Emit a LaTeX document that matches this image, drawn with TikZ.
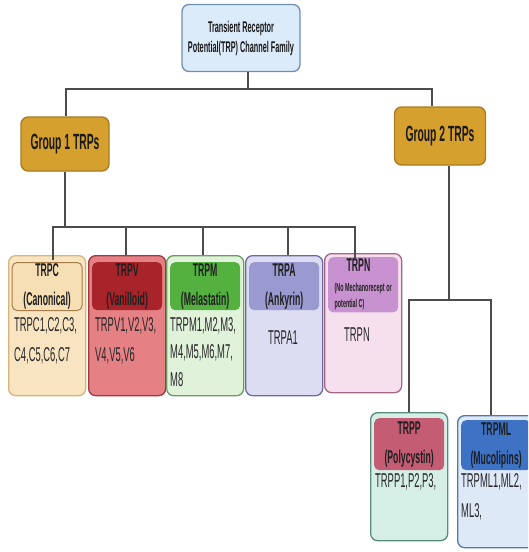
\documentclass[tikz,border=0pt]{standalone}
\usepackage{fontspec}
\setmainfont{Liberation Sans}[FakeStretch=0.47]
\usetikzlibrary{positioning}

\definecolor{topfill}{HTML}{DCEBFA}
\definecolor{topdraw}{HTML}{6F8FB0}
\definecolor{grpfill}{HTML}{D6A02E}
\definecolor{grpdraw}{HTML}{A87A22}
\definecolor{cfill}{HTML}{F8E4C0}
\definecolor{cdraw}{HTML}{D8B47A}
\definecolor{chead}{HTML}{F6DFB5}
\definecolor{cheaddraw}{HTML}{A67C4A}
\definecolor{vfill}{HTML}{E58084}
\definecolor{vdraw}{HTML}{9E3A3E}
\definecolor{vhead}{HTML}{A8232A}
\definecolor{mfill}{HTML}{E0F3DA}
\definecolor{mdraw}{HTML}{6C9A60}
\definecolor{mhead}{HTML}{54B140}
\definecolor{afill}{HTML}{DCDCF2}
\definecolor{adraw}{HTML}{6B6B9E}
\definecolor{ahead}{HTML}{9A9AD0}
\definecolor{nfill}{HTML}{F7E0EE}
\definecolor{ndraw}{HTML}{A26686}
\definecolor{nhead}{HTML}{C792CF}
\definecolor{pfill}{HTML}{D6EFE6}
\definecolor{pdraw}{HTML}{5B8A7A}
\definecolor{phead}{HTML}{C45C74}
\definecolor{mlfill}{HTML}{DEE9F8}
\definecolor{mldraw}{HTML}{5478A8}
\definecolor{mlhead}{HTML}{3D72C4}

\tikzset{
  treeline/.style={draw=black!70, line width=1.2pt},
  topbox/.style={draw=topdraw, fill=topfill, rounded corners=7pt, line width=1.3pt,
    minimum width=118pt, minimum height=67pt, align=center, text=black!90,
    font=\bfseries\fontsize{15.5}{20}\selectfont},
  grpbox/.style={draw=grpdraw, fill=grpfill, rounded corners=7pt, line width=1.3pt,
    minimum width=88pt, minimum height=54pt, align=center, text=black!90,
    font=\bfseries\fontsize{22}{24}\selectfont},
  fambox/.style={rounded corners=7pt, line width=1.3pt, minimum width=77pt,
    minimum height=140pt, anchor=north west, inner sep=0pt},
  famhead/.style={rounded corners=5pt, minimum width=70pt, minimum height=48pt,
    anchor=north, align=center, inner sep=1pt, text=black!88,
    font=\bfseries\fontsize{18.5}{29}\selectfont},
  famtext/.style={align=left, inner sep=0pt, text=black!85,
    font=\fontsize{20}{30}\selectfont},
}

\begin{document}
\begin{tikzpicture}[x=1pt,y=-1pt]
\useasboundingbox (0,0) rectangle (528,552);
\clip (0,0) rectangle (528,552);

% top and the two groups
\node[topbox] (trp) at (241,38) {Transient Receptor\\Potential(TRP) Channel Family};
\node[grpbox] (grp1) at (65,144) {Group 1 TRPs};
\node[grpbox, minimum width=91pt, minimum height=58pt] (grp2) at (440,136) {Group 2 TRPs};

% families of group 1
\node[fambox, draw=cdraw, fill=cfill] (trpc) at (8,255) {};
\node[famhead, draw=cheaddraw, fill=chead, line width=1pt] (trpcH) at ([yshift=-7pt]trpc.north) {TRPC\\(Canonical)};
\node[famtext, anchor=north west] (trpcB) at (14,317) {TRPC1,C2,C3,\\C4,C5,C6,C7};

\node[fambox, draw=vdraw, fill=vfill] (trpv) at (88,255) {};
\node[famhead, fill=vhead] (trpvH) at ([yshift=-7pt]trpv.north) {TRPV\\(Vanilloid)};
\node[famtext, anchor=north west] (trpvB) at (95,317) {TRPV1,V2,V3,\\V4,V5,V6};

\node[fambox, draw=mdraw, fill=mfill] (trpm) at (166,255) {};
\node[famhead, fill=mhead] (trpmH) at ([yshift=-7pt]trpm.north) {TRPM\\(Melastatin)};
\node[famtext, anchor=north west, font=\fontsize{20}{27.5}\selectfont] (trpmB) at (170,317) {TRPM1,M2,M3,\\M4,M5,M6,M7,\\M8};

\node[fambox, draw=adraw, fill=afill] (trpa) at (245,255) {};
\node[famhead, fill=ahead] (trpaH) at ([yshift=-7pt]trpa.north) {TRPA\\(Ankyrin)};
\node[famtext] (trpaB) at (283,338) {TRPA1};

\node[fambox, draw=ndraw, fill=nfill, minimum height=139pt] (trpn) at (324,253) {};
\node[famhead, fill=nhead, minimum height=53pt, align=left, inner ysep=2pt,
  font=\bfseries\fontsize{11.5}{16}\selectfont] (trpnH) at ([yshift=-4pt]trpn.north)
  {\hspace*{12pt}{\fontsize{18.5}{14}\selectfont TRPN}\\[4pt]
   (No Mechanorecept or\\
   potential C)};
\node[famtext] (trpnB) at (357,335) {TRPN};

% families of group 2
\node[fambox, draw=pdraw, fill=pfill, minimum height=128pt] (trpp) at (370,412) {};
\node[famhead, fill=phead, minimum height=52pt] (trppH) at ([yshift=-6pt]trpp.north) {TRPP\\(Polycystin)};
\node[famtext, anchor=north west] (trppB) at (375,473) {TRPP1,P2,P3,};

\node[fambox, draw=mldraw, fill=mlfill, minimum height=132pt] (trpml) at (457,415) {};
\node[famhead, fill=mlhead, minimum height=50pt] (trpmlH) at ([yshift=-5pt]trpml.north) {TRPML\\(Mucolipins)};
\node[famtext, anchor=north west] (trpmlB) at (461,473) {TRPML1,ML2,\\ML3,};

% tree lines
\coordinate (t0) at (248,89);
\coordinate (t1) at (66,89);
\coordinate (t2) at (432,89);
\draw[treeline] (trp.south -| t0) -- (t0);
\draw[treeline] (grp1.north -| t1) |- (t2) -- (grp2.north -| t2);

\coordinate (g1) at (53,227);
\coordinate (g1r) at (355,227);
\draw[treeline] (grp1.south) -- (grp1.south |- g1);
\draw[treeline] ([yshift=-5pt]trpc.north -| g1) -- (g1) -- (g1r) -- ([yshift=-5pt]trpn.north -| g1r);
\draw[treeline] (trpv.north -| 126,0) -- (126,227);
\draw[treeline] (trpm.north -| 203,0) -- (203,227);
\draw[treeline] (trpa.north -| 288,0) -- (288,227);

\coordinate (g2) at (449,300);
\coordinate (g2l) at (409,300);
\coordinate (g2r) at (491,300);
\draw[treeline] (grp2.south -| g2) -- (g2);
\draw[treeline] (trpp.north -| g2l) -- (g2l) -- (g2r) -- (trpml.north -| g2r);

\end{tikzpicture}
\end{document}
